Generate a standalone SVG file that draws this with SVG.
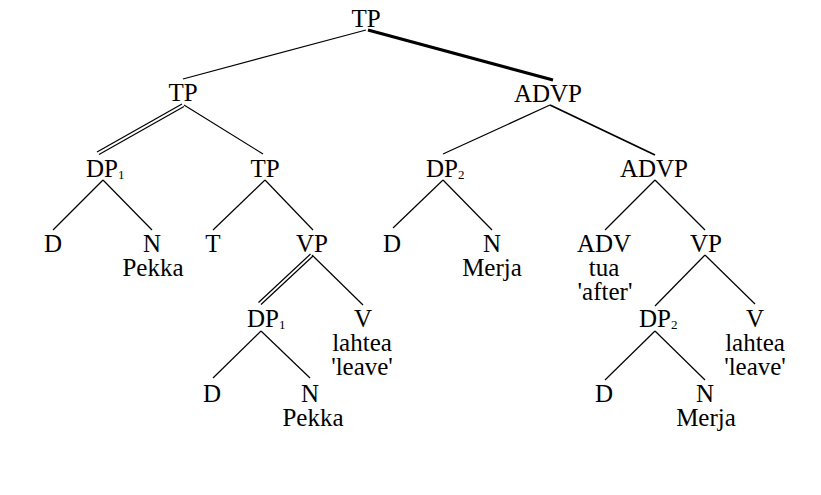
<svg xmlns="http://www.w3.org/2000/svg" width="821" height="495" viewBox="0 0 821 495">
  <style>
    text { font-family: "Liberation Serif", "Times New Roman", serif; font-size: 25px; fill: #000; text-anchor: middle; }
    .sub { font-size: 13px; text-anchor: start; }
    line { stroke: #000; stroke-width: 1.2; }
    .thick { stroke-width: 3; }
    .mid { stroke-width: 1.8; }
  </style>
  <rect width="821" height="495" fill="#fff"/>

  <g id="edges">
    <line x1="366" y1="30" x2="183" y2="79"/>
    <line class="thick" x1="368" y1="30" x2="553" y2="80"/>
    <!-- TP -> DP1 (double) -->
    <line x1="182" y1="104" x2="97" y2="152"/>
    <line x1="184" y1="106.5" x2="99" y2="154.5"/>
    <line x1="184" y1="105" x2="263" y2="154"/>
    <line x1="103" y1="180" x2="53" y2="230"/>
    <line x1="103" y1="180" x2="152" y2="230"/>
    <line x1="265" y1="180" x2="213" y2="230"/>
    <line x1="265" y1="180" x2="313" y2="230"/>
    <!-- VP -> DP1 (double) -->
    <line x1="310.5" y1="254" x2="258.5" y2="302.5"/>
    <line x1="313" y1="256" x2="261" y2="304.5"/>
    <line x1="312" y1="255" x2="363" y2="305"/>
    <line x1="261" y1="331" x2="213" y2="378"/>
    <line x1="261" y1="331" x2="310" y2="378"/>
    <!-- ADVP branch -->
    <line x1="550" y1="105" x2="443" y2="154"/>
    <line class="mid" x1="550" y1="105" x2="655" y2="155"/>
    <line x1="443" y1="180" x2="393" y2="228"/>
    <line x1="443" y1="180" x2="492" y2="230"/>
    <line x1="655" y1="180" x2="605" y2="230"/>
    <line x1="655" y1="180" x2="705" y2="230"/>
    <line x1="705" y1="255" x2="655" y2="306"/>
    <line x1="705" y1="255" x2="755" y2="304"/>
    <line x1="655" y1="331" x2="605" y2="380"/>
    <line x1="655" y1="331" x2="705" y2="380"/>
  </g>

  <g id="n-tp-root"><text x="366" y="27">TP</text></g>
  <g id="n-tp-left"><text x="183" y="101">TP</text></g>
  <g id="n-advp-top"><text x="548" y="102">ADVP</text></g>

  <g id="n-dp1-a"><text x="103" y="177" style="text-anchor:end" dx="15">DP</text><text class="sub" x="118" y="179">1</text></g>
  <g id="n-tp-mid"><text x="265" y="177">TP</text></g>
  <g id="n-dp2-a"><text x="458" y="177" style="text-anchor:end">DP</text><text class="sub" x="458" y="179">2</text></g>
  <g id="n-advp-mid"><text x="654" y="177">ADVP</text></g>

  <g id="n-d-1"><text x="53" y="252">D</text></g>
  <g id="n-n-1"><text x="152" y="252">N</text><text x="153" y="276">Pekka</text></g>
  <g id="n-t"><text x="213" y="252">T</text></g>
  <g id="n-vp-1"><text x="312" y="252">VP</text></g>
  <g id="n-d-2"><text x="392" y="252">D</text></g>
  <g id="n-n-2"><text x="492" y="252">N</text><text x="492" y="276">Merja</text></g>
  <g id="n-adv"><text x="604" y="252">ADV</text><text x="604" y="276">tua</text><text x="605" y="300">'after'</text></g>
  <g id="n-vp-2"><text x="706" y="252">VP</text></g>

  <g id="n-dp1-b"><text x="279" y="327" style="text-anchor:end">DP</text><text class="sub" x="279" y="329">1</text></g>
  <g id="n-v-1"><text x="363" y="327">V</text><text x="362" y="351">lahtea</text><text x="362" y="375">'leave'</text></g>
  <g id="n-dp2-b"><text x="671" y="327" style="text-anchor:end">DP</text><text class="sub" x="671" y="329">2</text></g>
  <g id="n-v-2"><text x="755" y="327">V</text><text x="755" y="351">lahtea</text><text x="755" y="375">'leave'</text></g>

  <g id="n-d-3"><text x="212" y="402">D</text></g>
  <g id="n-n-3"><text x="310" y="402">N</text><text x="313" y="426">Pekka</text></g>
  <g id="n-d-4"><text x="604" y="402">D</text></g>
  <g id="n-n-4"><text x="705" y="402">N</text><text x="706" y="426">Merja</text></g>
</svg>
